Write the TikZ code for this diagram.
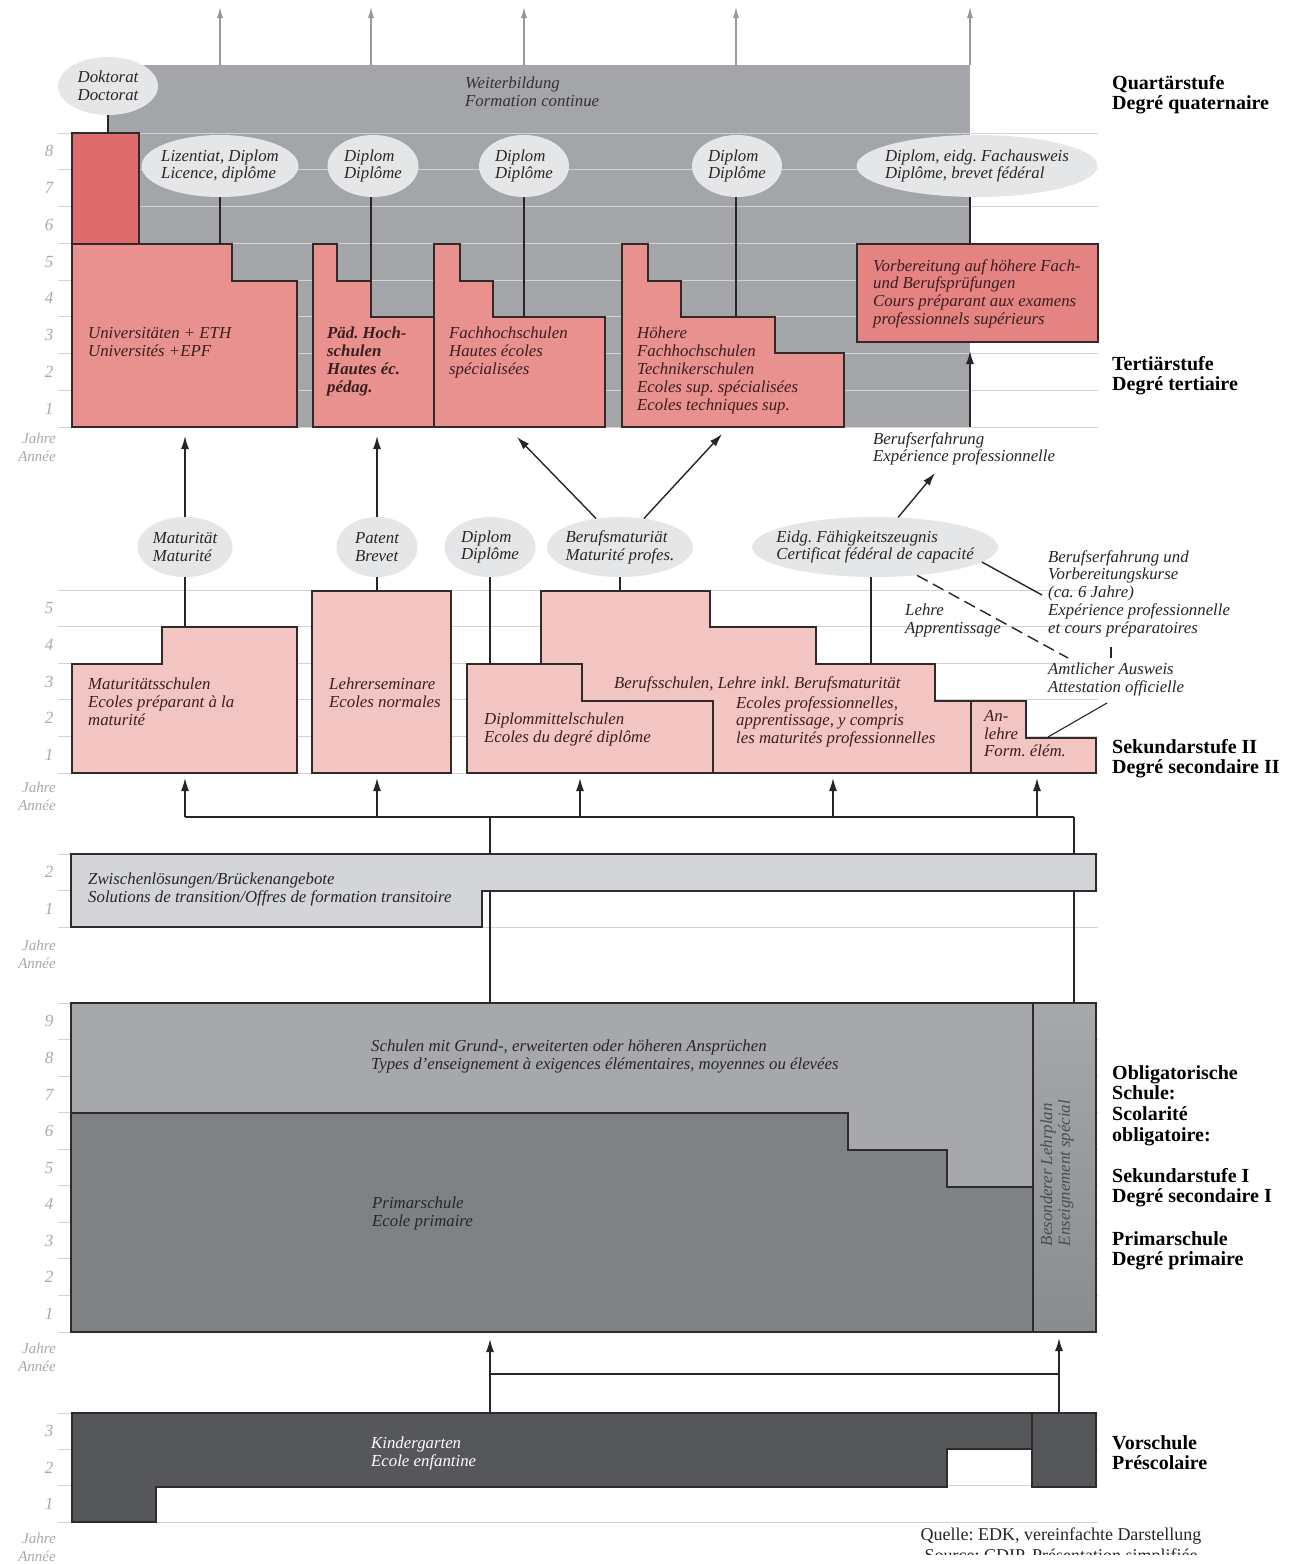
\documentclass[tikz,border=0pt]{standalone}
\usepackage{fontspec}
\setmainfont{Liberation Serif}
\usetikzlibrary{shapes.geometric,arrows.meta}
\frenchspacing

\definecolor{weiterGray}{HTML}{A3A5A8}
\definecolor{doktRed}{HTML}{DE6C6D}
\definecolor{tertRed}{HTML}{E8918F}
\definecolor{vorbRed}{HTML}{E58282}
\definecolor{sekPink}{HTML}{F2C5C2}
\definecolor{certGray}{HTML}{E5E6E8}
\definecolor{zwiGray}{HTML}{D3D5D8}
\definecolor{obliLight}{HTML}{A6A8AB}
\definecolor{obliDark}{HTML}{7F8285}
\definecolor{kigaGray}{HTML}{55575A}
\definecolor{gridGray}{HTML}{D2D3D5}
\definecolor{yearGray}{HTML}{A9A9A9}
\definecolor{inkRed}{HTML}{3A1E1E}
\definecolor{edgeCol}{HTML}{302A2A}

\newcommand\boxfont{\fontsize{16.8}{17.8}\selectfont\itshape}
\newcommand\stagefont{\fontsize{20}{20.7}\selectfont\bfseries}
\newcommand\yearfont{\fontsize{17}{17}\selectfont\itshape}

\tikzset{
  box/.style={draw=edgeCol, line width=1.4pt},
  gridline/.style={draw=gridGray, line width=1pt},
  link/.style={draw=black!85, line width=1.4pt},
  arr/.style={link, -{Latex[length=13pt,width=8pt]}},
  outarr/.style={draw=black!40, line width=1.1pt, -{Latex[length=11pt,width=6pt]}},
  cert/.style={ellipse, fill=certGray, inner sep=0pt},
  certtext/.style={font=\boxfont, align=left, inner sep=0pt, text=black!85},
  boxtext/.style={font=\boxfont, align=left, anchor=north west, inner sep=0pt, text=inkRed},
  stage/.style={font=\stagefont, align=left, anchor=north west, inner sep=0pt},
  year/.style={font=\yearfont, text=yearGray, inner sep=0pt},
  jahre/.style={font=\fontsize{15}{17.5}\selectfont\itshape, text=yearGray, align=right, anchor=north east, inner sep=0pt}
}

\begin{document}
\begin{tikzpicture}[x=1pt,y=-1pt]
  \pgfmathsetmacro\yr{36.75}   % height of one school year
  \useasboundingbox (0,0) rectangle (1302,1564);
  \fill[white] (0,0) rectangle (1302,1564);

% Quartaerstufe: Weiterbildung block with outgoing arrows
  \fill[weiterGray] (108,65) rectangle (970,427);
  \foreach \x [count=\k] in {220,371,524,736,970} {
    \coordinate (wb\k) at (\x,65);
    \coordinate (out\k) at (\x,7);
    \draw[outarr] (wb\k) -- (out\k);
  }
  \node[boxtext, text=black!80] (weiterT) at (465,77) {Weiterbildung\\Formation continue};

% Tertiaerstufe: year grid
  \foreach \i in {0,...,8} \draw[gridline] (58,{427-\i*\yr}) -- (1098,{427-\i*\yr});
  \foreach \i in {1,...,8} \node[year] (yT\i) at (49,{427-(\i-0.5)*\yr}) {\i};
  \node[jahre] (jahreT) at (56,433) {Jahre\\Année};

% Tertiaerstufe: schools
  \draw[box, fill=doktRed] (72,133) rectangle (139,244);
  \draw[box, fill=tertRed] (72,427) -- (72,244) -- (232,244) -- (232,281) -- (297,281) -- (297,427) -- cycle;
  \draw[box, fill=tertRed] (313,427) -- (313,244) -- (337,244) -- (337,281) -- (371,281) -- (371,317) -- (434,317) -- (434,427) -- cycle;
  \draw[box, fill=tertRed] (434,427) -- (434,244) -- (460,244) -- (460,281) -- (493,281) -- (493,317) -- (605,317) -- (605,427) -- cycle;
  \draw[box, fill=tertRed] (622,427) -- (622,244) -- (648,244) -- (648,281) -- (681,281) -- (681,317) -- (775,317) -- (775,353) -- (844,353) -- (844,427) -- cycle;
  \draw[box, fill=vorbRed] (857,244) rectangle (1098,342);
  \node[boxtext] (uniT) at (88,327) {Universitäten + ETH\\Universités +EPF};
  \node[boxtext, font=\boxfont\bfseries] (paedT) at (327,327) {Päd. Hoch-\\schulen\\Hautes éc.\\pédag.};
  \node[boxtext] (fhT) at (449,327) {Fachhochschulen\\Hautes écoles\\spécialisées};
  \node[boxtext] (hfT) at (637,327) {Höhere\\Fachhochschulen\\Technikerschulen\\Ecoles sup. spécialisées\\Ecoles techniques sup.};
  \node[boxtext] (vorbT) at (873,259) {Vorbereitung auf höhere Fach-\\und Berufsprüfungen\\Cours préparant aux examens\\professionnels supérieurs};

% Tertiaerstufe: diplomas
  \node[cert, minimum width=100pt, minimum height=58pt] (dokt) at (108,86) {};
  \node[certtext] (doktT) at (dokt) {Doktorat\\Doctorat};
  \node[cert, minimum width=157pt, minimum height=62pt] (liz) at (220,166) {};
  \node[certtext] (lizT) at (liz) {Lizentiat, Diplom\\Licence, diplôme};
  \node[cert, minimum width=91pt, minimum height=62pt] (dipA) at (373,166) {};
  \node[certtext] (dipAT) at (dipA) {Diplom\\Diplôme};
  \node[cert, minimum width=90pt, minimum height=62pt] (dipB) at (524,166) {};
  \node[certtext] (dipBT) at (dipB) {Diplom\\Diplôme};
  \node[cert, minimum width=90pt, minimum height=62pt] (dipC) at (737,166) {};
  \node[certtext] (dipCT) at (dipC) {Diplom\\Diplôme};
  \node[cert, minimum width=241pt, minimum height=62pt] (fach) at (977,166) {};
  \node[certtext] (fachT) at (fach) {Diplom, eidg. Fachausweis\\Diplôme, brevet fédéral};

  \coordinate (doktTop) at (108,133);
  \coordinate (uniTop) at (220,244);
  \coordinate (paedTop) at (371,281);
  \coordinate (fhTop) at (524,317);
  \coordinate (hfTop) at (736,317);
  \coordinate (vorbTop) at (970,244);
  \coordinate (vorbBot) at (970,351);
  \coordinate (erfStart) at (970,427);
  \draw[link] (dokt.south) -- (doktTop);
  \draw[link] (liz.south) -- (uniTop);
  \draw[link] (paedTop |- dipA.south) -- (paedTop);
  \draw[link] (dipB.south) -- (fhTop);
  \draw[link] (hfTop |- dipC.south) -- (hfTop);
  \draw[link] (vorbTop |- fach.south) -- (vorbTop);
  \draw[arr] (erfStart) -- (vorbBot);
  \node[stage] (quartT) at (1112,75) {Quartärstufe\\Degré quaternaire};
  \node[stage] (tertT) at (1112,356) {Tertiärstufe\\Degré tertiaire};

% Sekundarstufe II: year grid
  \foreach \i in {0,...,5} \draw[gridline] (58,{773-\i*36.6}) -- (1098,{773-\i*36.6});
  \foreach \i in {1,...,5} \node[year] (yS\i) at (49,{773-(\i-0.5)*36.6}) {\i};
  \node[jahre] (jahreS) at (56,782) {Jahre\\Année};

% Sekundarstufe II: schools
  \draw[box, fill=sekPink] (72,773) -- (72,664) -- (162,664) -- (162,627) -- (297,627) -- (297,773) -- cycle;
  \draw[box, fill=sekPink] (312,591) rectangle (451,773);
  \draw[box, fill=sekPink] (541,773) -- (541,591) -- (710,591) -- (710,627) -- (816,627) -- (816,664) -- (935,664) -- (935,701) -- (1026,701) -- (1026,738) -- (1096,738) -- (1096,773) -- cycle;
  \draw[box] (971,701) -- (971,773);
  \draw[box, fill=sekPink] (467,773) -- (467,664) -- (582,664) -- (582,701) -- (713,701) -- (713,773) -- cycle;
  \node[boxtext] (matsT) at (88,678) {Maturitätsschulen\\Ecoles préparant à la\\maturité};
  \node[boxtext] (semT) at (329,678) {Lehrerseminare\\Ecoles normales};
  \node[boxtext] (dmsT) at (484,713) {Diplommittelschulen\\Ecoles du degré diplôme};
  \node[boxtext] (bsT) at (614,676) {Berufsschulen, Lehre inkl. Berufsmaturität};
  \node[boxtext] (epT) at (736,696) {Ecoles professionnelles,\\apprentissage, y compris\\les maturités professionnelles};
  \node[boxtext] (anlT) at (984,710) {An-\\lehre\\Form. élém.};

% Sekundarstufe II: diplomas and paths
  \node[cert, minimum width=95pt, minimum height=60pt] (mat) at (185,547) {};
  \node[certtext] (matT) at (mat) {Maturität\\Maturité};
  \node[cert, minimum width=81pt, minimum height=60pt] (pat) at (377,547) {};
  \node[certtext] (patT) at (pat) {Patent\\Brevet};
  \node[cert, minimum width=91pt, minimum height=60pt] (dipS) at (490,547) {};
  \node[certtext] (dipST) at (dipS) {Diplom\\Diplôme};
  \node[cert, minimum width=146pt, minimum height=60pt] (bm) at (620,547) {};
  \node[certtext] (bmT) at (bm) {Berufsmaturiät\\Maturité profes.};
  \node[cert, minimum width=246pt, minimum height=60pt] (eidg) at (875,547) {};
  \node[certtext] (eidgT) at (eidg) {Eidg. Fähigkeitszeugnis\\Certificat fédéral de capacité};

  \coordinate (matTop) at (185,627);
  \coordinate (semTop) at (377,591);
  \coordinate (dmsTop) at (490,664);
  \coordinate (bsTop) at (620,591);
  \coordinate (lehreTop) at (871,664);
  \coordinate (uniBot) at (185,436);
  \coordinate (paedBot) at (377,436);
  \coordinate (fhBot) at (517,437);
  \coordinate (hfBot) at (722,434);
  \coordinate (erfEnd) at (935,473);
  \coordinate (bevEnd) at (1042,595);
  \coordinate (amtEnd) at (1068,658);
  \coordinate (bevFoot) at (1111,647);
  \coordinate (amtHead) at (1111,658);
  \coordinate (amtFoot) at (1107,703);
  \coordinate (anlTop) at (1048,737);
  \draw[link] (mat.south) -- (matTop);
  \draw[link] (pat.south) -- (semTop);
  \draw[link] (dipS.south) -- (dmsTop);
  \draw[link] (bm.south) -- (bsTop);
  \draw[link] (lehreTop |- eidg.south) -- (lehreTop);
  \draw[arr] (mat.north) -- (uniBot);
  \draw[arr] (pat.north) -- (paedBot);
  \draw[arr] (bm.130) -- (fhBot);
  \draw[arr] (bm.50) -- (hfBot);
  \draw[arr] (eidg.52) -- (erfEnd);
  \draw[link] (eidg.-8) -- (bevEnd);
  \draw[link, dash pattern=on 12pt off 6pt] (eidg.-34) -- (amtEnd);
  \draw[link, line width=1.1pt] (bevFoot) -- (amtHead);
  \draw[link, line width=1.1pt] (amtFoot) -- (anlTop);
  \node[boxtext, text=black!85] (erfT) at (873,432) {Berufserfahrung\\Expérience professionnelle};
  \node[boxtext, text=black!85] (lehreT) at (905,604) {Lehre\\Apprentissage};
  \node[boxtext, text=black!85] (bevT) at (1048,550) {Berufserfahrung und\\Vorbereitungskurse\\(ca. 6 Jahre)\\Expérience professionnelle\\et cours préparatoires};
  \node[boxtext, text=black!85] (amtT) at (1048,663) {Amtlicher Ausweis\\Attestation officielle};
  \node[stage] (sek2T) at (1112,739) {Sekundarstufe II\\Degré secondaire II};

% paths from the transition year into Sekundarstufe II
  \foreach \x [count=\k] in {185,377,580,833,1037} {
    \coordinate (sb\k) at (\x,817);
    \coordinate (se\k) at (\x,778);
    \draw[arr] (sb\k) -- (se\k);
  }
  \coordinate (barM) at (490,817);
  \coordinate (barR) at (1074,817);
  \draw[link] (sb1) -- (barR);

% Zwischenloesungen
  \foreach \i in {0,1,2} \draw[gridline] (58,{927-\i*36.5}) -- (1098,{927-\i*36.5});
  \foreach \i in {1,2} \node[year] (yZ\i) at (49,{927-(\i-0.5)*36.5}) {\i};
  \node[jahre] (jahreZ) at (56,940) {Jahre\\Année};
  \draw[box, fill=zwiGray] (71,854) -- (1096,854) -- (1096,891) -- (482,891) -- (482,927) -- (71,927) -- cycle;
  \node[boxtext, text=black!85] (zwiT) at (88,873) {Zwischenlösungen/Brückenangebote\\Solutions de transition/Offres de formation transitoire};
  \coordinate (zwiTopL) at (490,854);
  \coordinate (zwiBotL) at (490,891);
  \coordinate (zwiTopR) at (1074,854);
  \coordinate (zwiBotR) at (1074,891);
  \coordinate (obliTopL) at (490,1003);
  \coordinate (obliTopR) at (1074,1003);
  \draw[link] (barM) -- (zwiTopL);
  \draw[link] (barR) -- (zwiTopR);
  \draw[link] (zwiBotL) -- (obliTopL);
  \draw[link] (zwiBotR) -- (obliTopR);

% Obligatorische Schule
  \foreach \i in {0,...,9} \draw[gridline] (58,{1332-\i*36.55}) -- (1098,{1332-\i*36.55});
  \foreach \i in {1,...,9} \node[year] (yO\i) at (49,{1332-(\i-0.5)*36.55}) {\i};
  \node[jahre] (jahreO) at (56,1343) {Jahre\\Année};
  \draw[box, fill=obliLight] (71,1003) rectangle (1096,1332);
  \draw[box, fill=obliDark] (71,1332) -- (71,1113) -- (848,1113) -- (848,1150) -- (947,1150) -- (947,1187) -- (1033,1187) -- (1033,1332) -- cycle;
  \shadedraw[box, top color=obliLight, bottom color=obliDark!92!white] (1033,1003) rectangle (1096,1332);
  \node[boxtext, text=black!85] (sekIT) at (371,1040) {Schulen mit Grund-, erweiterten oder höheren Ansprüchen\\Types d'enseignement à exigences élémentaires, moyennes ou élevées};
  \node[boxtext, text=black!85] (primT) at (372,1197) {Primarschule\\Ecole primaire};
  \node[font=\boxfont, text=black!70, align=left, rotate=90, inner sep=0pt] (besT) at (1057,1173) {Besonderer Lehrplan\\Enseignement spécial};
  \node[stage] (obliT) at (1112,1065) {Obligatorische\\Schule:\\Scolarité\\obligatoire:};
  \node[stage] (sek1T) at (1112,1168) {Sekundarstufe I\\Degré secondaire I};
  \node[stage] (primStT) at (1112,1231) {Primarschule\\Degré primaire};

% Vorschule
  \foreach \i in {0,...,3} \draw[gridline] (58,{1522-\i*36.3}) -- (1098,{1522-\i*36.3});
  \foreach \i in {1,2,3} \node[year] (yK\i) at (49,{1522-(\i-0.5)*36.3}) {\i};
  \node[jahre] (jahreK) at (56,1533) {Jahre\\Année};
  \draw[box, fill=kigaGray] (72,1522) -- (72,1413) -- (1096,1413) -- (1096,1487) -- (1032,1487) -- (1032,1449) -- (947,1449) -- (947,1487) -- (156,1487) -- (156,1522) -- cycle;
  \draw[box] (1032,1413) -- (1032,1449);
  \node[boxtext, text=white] (kigaT) at (371,1437) {Kindergarten\\Ecole enfantine};
  \node[stage] (vorT) at (1112,1435) {Vorschule\\Préscolaire};
  \coordinate (kigaTopL) at (490,1413);
  \coordinate (obliBotL) at (490,1339);
  \coordinate (kigaTopR) at (1059,1413);
  \coordinate (obliBotR) at (1059,1338);
  \coordinate (joinL) at (490,1374);
  \coordinate (joinR) at (1059,1374);
  \draw[arr] (kigaTopL) -- (obliBotL);
  \draw[arr] (kigaTopR) -- (obliBotR);
  \draw[link] (joinL) -- (joinR);

% source line, cut at the lower edge
  \begin{scope}
    \clip (0,0) rectangle (1302,1554);
    \node[font=\fontsize{18}{20.5}\selectfont, text=black!85, align=center, anchor=north, inner sep=0pt] (quelleT) at (1061,1528) {Quelle: EDK, vereinfachte Darstellung\\Source: CDIP, Présentation simplifiée};
  \end{scope}
\end{tikzpicture}
\end{document}
